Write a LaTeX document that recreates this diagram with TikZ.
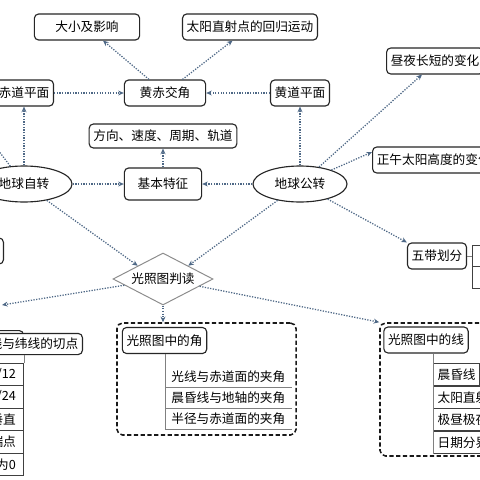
\documentclass[tikz,border=0pt]{standalone}
\usepackage{fontspec}
\setmainfont{Noto Sans CJK SC}
\usetikzlibrary{shapes.geometric,arrows.meta}
\definecolor{linkblue}{RGB}{78,104,134}

\begin{document}
\begin{tikzpicture}[x=0.025cm, y=-0.025cm, font=\fontsize{9}{10}\selectfont,
	topic/.style={draw=black!85, line width=0.8pt, rounded corners=3pt, fill=white, inner xsep=3pt, minimum height=0.65cm},
	orbit/.style={ellipse, draw=black!85, line width=0.8pt, fill=white, minimum width=2.35cm, minimum height=0.9cm, inner sep=0pt},
	judge/.style={diamond, draw=black!45, line width=0.7pt, fill=white, aspect=1.9, minimum width=2.5cm, minimum height=1.3cm, inner sep=0pt},
	group/.style={draw=black!90, dash pattern=on 3pt off 1.8pt, line width=1.1pt, rounded corners=4pt},
	cell/.style={draw=black!75, line width=0.6pt, fill=white, minimum height=0.56cm, inner xsep=3pt},
	row/.style={anchor=south west, minimum width=3.15cm, minimum height=0.5cm, inner sep=1pt},
	link/.style={linkblue, densely dotted, line width=0.9pt, -{Stealth[length=4pt,width=3.5pt]}},
	stem/.style={black!50, line width=0.6pt},
	]
\useasboundingbox (0,0) rectangle (480,480);
\clip (0,0) rectangle (480,480);

\node[topic, minimum width=2.63cm] (size) at (87,27) {大小及影响};
\node[topic] (sunpt) at (250,27) {太阳直射点的回归运动};
\node[topic, minimum width=2.03cm] (tilt) at (165,93) {黄赤交角};
\node[topic] (eqplane) at (24,93) {赤道平面};
\node[topic] (eclplane) at (300,93) {黄道平面};
\node[topic, anchor=west] (daynight) at (386,61) {昼夜长短的变化};
\node[topic, minimum height=0.6cm] (traits) at (163,136) {方向、速度、周期、轨道};
\node[topic, minimum width=1.93cm, minimum height=0.8cm] (basic) at (163,184) {基本特征};
\node[orbit, minimum width=2.4cm] (rot) at (24,184) {地球自转};
\node[orbit] (rev) at (300,184) {地球公转};
\node[topic, anchor=west] (noon) at (372,160) {正午太阳高度的变化};
\node[topic, anchor=east, minimum width=1cm] (leftbox) at (4,251) {};
\node[topic] (zones) at (437,256) {五带划分};
\node[cell, anchor=north west, minimum width=1cm, minimum height=0.53cm] (z1) at (472,245) {};
\node[cell, anchor=north west, minimum width=1cm, minimum height=0.55cm] (z2) at (472,266) {};
\node[judge] (judge) at (163,279) {光照图判读};
\coordinate (rotup) at (-25,120);
\coordinate (ptgroup) at (2,305);

\node[topic, anchor=north east, minimum width=2cm, minimum height=0.4cm] (ptbox) at (24,330) {};
\node[topic, anchor=east, minimum height=0.5cm] (tang) at (83,344) {晨昏线与纬线的切点};
\foreach \t/\y [count=\i] in {{/12}/363, {/24}/385.4, 垂直/407.8, 端点/430.2, 为0/452.6}
	\node[cell, anchor=north east, text width=2cm, align=right, inner xsep=5.5pt] (p\i) at (24,\y) {\t};

\node[group, minimum width=4.475cm, minimum height=2.8cm] (anggroup) at (206.5,379) {};
\node[topic] (angtitle) at (164.5,340.5) {光照图中的角};
\foreach \t/\y [count=\i] in {光线与赤道面的夹角/387, 晨昏线与地轴的夹角/408, 半径与赤道面的夹角/429}
	\node[row] (a\i) at (165,\y) {\t};

\node[group, minimum width=3.125cm, minimum height=3.325cm] (linegroup) at (442.5,389.5) {};
\node[topic] (linetitle) at (426,340) {光照图中的线};
\foreach \t/\y [count=\i] in {晨昏线/363, 太阳直射点/386, 极昼极夜/408, 日期分界线/431}
	\node[cell, anchor=north west, minimum height=0.55cm] (l\i) at (433,\y) {\t};

\draw[link] (tilt) -- (size);
\draw[link] (tilt) -- (sunpt);
\draw[link] (eqplane) -- (tilt);
\draw[link] (eclplane) -- (tilt);
\draw[link] (rot) -- (eqplane);
\draw[link] (rev) -- (eclplane);
\draw[link] (rot) -- (basic);
\draw[link] (rev) -- (basic);
\draw[link] (basic) -- (traits);
\draw[link] (rot) -- (rotup);
\draw[link] (rev) -- ([xshift=0.9cm]daynight.south west);
\draw[link] (rev) -- ([yshift=0.2cm]noon.west);
\draw[link] (rev) -- (zones.north west);
\draw[link] (rot) -- (judge.north west);
\draw[link] (rev) -- (judge.north east);
\draw[link] (judge) -- (ptgroup);
\draw[link] (judge.south) -- (judge.south |- anggroup.north);
\draw[link] (judge) -- (linegroup.north west);

\draw[stem] (zones.east) -- (zones.east -| z1.west);
\draw[stem] (tang.south -| p1.north east) -- (p1.north east);
\draw[stem] (angtitle.south -| a1.south west) -- (a3.south west);
\foreach \i in {1,2,3}
	\draw[stem] (a\i.south west) -- (a\i.south east);
\draw[stem] (l1.west |- linetitle.south) -- (l4.south west);
\end{tikzpicture}
\end{document}
